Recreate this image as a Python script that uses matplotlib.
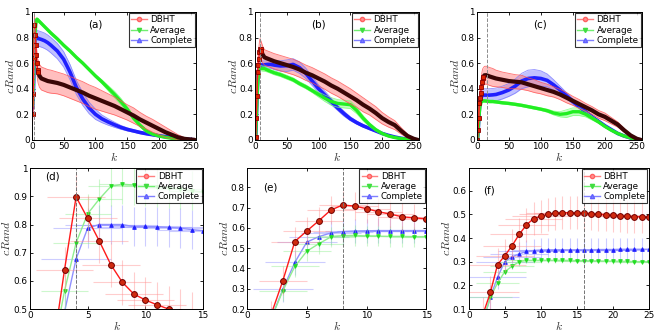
import numpy as np
import matplotlib
matplotlib.use("Agg")
import matplotlib.pyplot as plt
from matplotlib.lines import Line2D

plt.rcParams['font.family'] = ['DejaVu Sans']
plt.rcParams['mathtext.fontset'] = 'cm'

# ---------------- top-row data (k = number of clusters) ----------------
k_top = [1, 2, 3, 4, 5, 6, 7, 8, 9, 10, 12, 15, 20, 25, 30, 40, 50, 60, 70, 80, 90,
         100, 110, 120, 130, 140, 150, 160, 170, 180, 190, 200, 210, 220, 230, 240, 250, 256]

a_dbht = [0.20, 0.36, 0.64, 0.90, 0.82, 0.74, 0.66, 0.60, 0.55, 0.53, 0.50, 0.48, 0.47, 0.46, 0.455, 0.445,
          0.43, 0.41, 0.39, 0.37, 0.345, 0.325, 0.305, 0.285, 0.265, 0.24, 0.215, 0.19, 0.16, 0.135, 0.11,
          0.085, 0.06, 0.04, 0.02, 0.008, 0.003, 0.0]
a_dbht_sd = [0.08, 0.08, 0.08, 0.08, 0.08, 0.08, 0.08, 0.085, 0.085, 0.09, 0.09, 0.09, 0.09, 0.09, 0.09,
             0.085, 0.085, 0.085, 0.085, 0.085, 0.085, 0.085, 0.08, 0.075, 0.07, 0.065, 0.06, 0.06, 0.055,
             0.05, 0.05, 0.045, 0.04, 0.03, 0.02, 0.01, 0.005, 0.0]
a_avg = [0.27, 0.35, 0.565, 0.735, 0.838, 0.89, 0.935, 0.943, 0.94, 0.935, 0.925, 0.91, 0.885, 0.86, 0.835,
         0.79, 0.74, 0.695, 0.645, 0.60, 0.55, 0.50, 0.455, 0.405, 0.355, 0.30, 0.24, 0.17, 0.115, 0.07,
         0.045, 0.03, 0.02, 0.012, 0.007, 0.003, 0.001, 0.0]
a_avg_sd = [0.05, 0.05, 0.05, 0.04, 0.03, 0.02, 0.015, 0.012, 0.012, 0.012, 0.012, 0.012, 0.01, 0.01, 0.01,
            0.01, 0.01, 0.01, 0.01, 0.01, 0.01, 0.012, 0.015, 0.02, 0.025, 0.025, 0.02, 0.015, 0.01, 0.01,
            0.008, 0.006, 0.005, 0.004, 0.003, 0.002, 0.001, 0.0]
a_cpl = [0.25, 0.30, 0.49, 0.678, 0.787, 0.80, 0.80, 0.80, 0.792, 0.793, 0.79, 0.785, 0.775, 0.76, 0.74,
         0.695, 0.63, 0.53, 0.41, 0.32, 0.25, 0.20, 0.165, 0.14, 0.118, 0.098, 0.082, 0.07, 0.058, 0.048,
         0.04, 0.032, 0.025, 0.018, 0.012, 0.007, 0.003, 0.0]
a_cpl_sd = [0.06, 0.06, 0.06, 0.06, 0.06, 0.06, 0.06, 0.06, 0.06, 0.06, 0.06, 0.06, 0.06, 0.06, 0.06,
            0.06, 0.06, 0.06, 0.055, 0.05, 0.045, 0.04, 0.03, 0.025, 0.02, 0.015, 0.012, 0.01, 0.01,
            0.008, 0.008, 0.006, 0.005, 0.004, 0.003, 0.002, 0.001, 0.0]

b_dbht = [0.02, 0.17, 0.34, 0.533, 0.585, 0.635, 0.688, 0.713, 0.708, 0.695, 0.668, 0.645, 0.635, 0.625,
          0.615, 0.60, 0.585, 0.57, 0.55, 0.525, 0.505, 0.48, 0.455, 0.425, 0.40, 0.37, 0.34, 0.31, 0.275,
          0.245, 0.21, 0.17, 0.14, 0.115, 0.07, 0.03, 0.008, 0.0]
b_dbht_sd = [0.06, 0.06, 0.07, 0.08, 0.08, 0.08, 0.08, 0.08, 0.07, 0.07, 0.065, 0.06, 0.06, 0.06, 0.06,
             0.06, 0.06, 0.06, 0.06, 0.06, 0.06, 0.06, 0.06, 0.06, 0.06, 0.06, 0.06, 0.055, 0.055, 0.05,
             0.05, 0.045, 0.04, 0.035, 0.025, 0.015, 0.005, 0.0]
b_avg = [0.0, 0.15, 0.29, 0.41, 0.485, 0.522, 0.555, 0.562, 0.563, 0.56, 0.558, 0.557, 0.545, 0.535, 0.525,
         0.51, 0.49, 0.47, 0.44, 0.415, 0.385, 0.355, 0.325, 0.30, 0.285, 0.28, 0.275, 0.23, 0.17, 0.12,
         0.08, 0.05, 0.03, 0.018, 0.01, 0.005, 0.002, 0.0]
b_avg_sd = [0.03, 0.03, 0.03, 0.03, 0.025, 0.02, 0.02, 0.02, 0.02, 0.02, 0.02, 0.02, 0.015, 0.015, 0.015,
            0.015, 0.015, 0.015, 0.015, 0.015, 0.015, 0.02, 0.025, 0.03, 0.03, 0.03, 0.03, 0.025, 0.02,
            0.015, 0.01, 0.008, 0.006, 0.004, 0.003, 0.002, 0.001, 0.0]
b_cpl = [0.0, 0.15, 0.297, 0.43, 0.53, 0.557, 0.575, 0.582, 0.585, 0.586, 0.587, 0.587, 0.59, 0.59, 0.585,
         0.578, 0.58, 0.59, 0.565, 0.52, 0.46, 0.40, 0.35, 0.30, 0.25, 0.205, 0.165, 0.135, 0.11, 0.09,
         0.07, 0.05, 0.035, 0.022, 0.012, 0.006, 0.002, 0.0]
b_cpl_sd = [0.03, 0.03, 0.03, 0.03, 0.03, 0.03, 0.03, 0.03, 0.03, 0.03, 0.03, 0.03, 0.03, 0.03, 0.035,
            0.04, 0.045, 0.045, 0.045, 0.04, 0.035, 0.03, 0.03, 0.025, 0.02, 0.02, 0.015, 0.012, 0.01,
            0.01, 0.008, 0.006, 0.005, 0.004, 0.003, 0.002, 0.001, 0.0]

c_dbht = [0.0, 0.08, 0.17, 0.288, 0.325, 0.367, 0.415, 0.455, 0.482, 0.492, 0.505, 0.506, 0.496, 0.488,
          0.48, 0.47, 0.46, 0.455, 0.45, 0.435, 0.42, 0.405, 0.39, 0.375, 0.355, 0.33, 0.305, 0.28, 0.255,
          0.23, 0.20, 0.18, 0.15, 0.12, 0.075, 0.035, 0.008, 0.0]
c_dbht_sd = [0.03, 0.04, 0.05, 0.06, 0.06, 0.065, 0.07, 0.07, 0.07, 0.07, 0.07, 0.07, 0.07, 0.07, 0.065,
             0.06, 0.06, 0.055, 0.055, 0.05, 0.05, 0.045, 0.045, 0.04, 0.04, 0.04, 0.035, 0.035, 0.03,
             0.03, 0.03, 0.03, 0.025, 0.02, 0.015, 0.01, 0.005, 0.0]
c_avg = [0.0, 0.05, 0.15, 0.21, 0.258, 0.28, 0.30, 0.305, 0.305, 0.305, 0.305, 0.303, 0.30, 0.30, 0.297,
         0.29, 0.285, 0.278, 0.27, 0.26, 0.25, 0.24, 0.228, 0.21, 0.20, 0.205, 0.22, 0.22, 0.20, 0.17,
         0.14, 0.105, 0.075, 0.05, 0.03, 0.015, 0.004, 0.0]
c_avg_sd = [0.02, 0.02, 0.02, 0.02, 0.015, 0.012, 0.01, 0.01, 0.01, 0.01, 0.01, 0.01, 0.01, 0.01, 0.01,
            0.01, 0.01, 0.01, 0.01, 0.01, 0.01, 0.01, 0.012, 0.015, 0.02, 0.03, 0.03, 0.03, 0.02, 0.015,
            0.01, 0.008, 0.006, 0.005, 0.004, 0.003, 0.001, 0.0]
c_cpl = [0.0, 0.05, 0.15, 0.235, 0.30, 0.32, 0.333, 0.343, 0.347, 0.35, 0.35, 0.35, 0.35, 0.352, 0.355,
         0.37, 0.39, 0.42, 0.46, 0.48, 0.485, 0.48, 0.465, 0.43, 0.39, 0.345, 0.30, 0.26, 0.22, 0.18,
         0.145, 0.11, 0.08, 0.05, 0.03, 0.015, 0.004, 0.0]
c_cpl_sd = [0.02, 0.02, 0.03, 0.04, 0.045, 0.05, 0.05, 0.05, 0.05, 0.05, 0.05, 0.05, 0.05, 0.05, 0.05,
            0.05, 0.05, 0.055, 0.06, 0.065, 0.065, 0.06, 0.05, 0.04, 0.03, 0.025, 0.02, 0.015, 0.012,
            0.01, 0.008, 0.006, 0.005, 0.004, 0.003, 0.002, 0.001, 0.0]

# ---------------- bottom-row data (zoom on small k) ----------------
k_d = [1, 2, 3, 4, 5, 6, 7, 8, 9, 10, 11, 12, 13, 14, 15]
d_dbht = [0.20, 0.36, 0.64, 0.898, 0.822, 0.742, 0.658, 0.595, 0.553, 0.532, 0.515, 0.50, 0.49, 0.48, 0.47]
d_avg = [0.27, 0.35, 0.565, 0.735, 0.838, 0.89, 0.935, 0.943, 0.94, 0.935, 0.932, 0.93, 0.925, 0.92, 0.915]
d_cpl = [0.25, 0.30, 0.49, 0.678, 0.787, 0.80, 0.80, 0.80, 0.792, 0.793, 0.792, 0.79, 0.787, 0.782, 0.778]

k_e = [1, 2, 3, 4, 5, 6, 7, 8, 9, 10, 11, 12, 13, 14, 15]
e_dbht = [0.02, 0.17, 0.34, 0.533, 0.585, 0.635, 0.688, 0.713, 0.708, 0.695, 0.68, 0.668, 0.655, 0.65, 0.645]
e_avg = [0.0, 0.15, 0.29, 0.41, 0.485, 0.522, 0.555, 0.562, 0.563, 0.56, 0.559, 0.558, 0.558, 0.557, 0.557]
e_cpl = [0.0, 0.15, 0.297, 0.43, 0.53, 0.557, 0.575, 0.582, 0.585, 0.586, 0.587, 0.587, 0.587, 0.587, 0.587]

k_f = list(range(1, 26))
f_dbht = [0.0, 0.08, 0.17, 0.288, 0.325, 0.367, 0.415, 0.455, 0.482, 0.492, 0.50, 0.505, 0.507, 0.507,
          0.506, 0.505, 0.503, 0.50, 0.498, 0.496, 0.494, 0.492, 0.49, 0.49, 0.488]
f_avg = [0.0, 0.05, 0.15, 0.21, 0.258, 0.28, 0.30, 0.305, 0.305, 0.305, 0.305, 0.305, 0.305, 0.305, 0.304,
         0.304, 0.303, 0.303, 0.302, 0.302, 0.301, 0.301, 0.30, 0.30, 0.30]
f_cpl = [0.0, 0.05, 0.15, 0.235, 0.30, 0.32, 0.333, 0.343, 0.347, 0.349, 0.35, 0.35, 0.35, 0.35, 0.35,
         0.35, 0.35, 0.351, 0.351, 0.351, 0.352, 0.352, 0.352, 0.352, 0.352]

# error magnitudes for the zoomed panels (vertical, horizontal)
d_err = {"DBHT": (0.08, 2.5), "Average": (0.07, 2.0), "Complete": (0.07, 3.0)}
e_err = {"DBHT": (0.07, 2.0), "Average": (0.05, 2.0), "Complete": (0.06, 2.5)}
f_err = {"DBHT": (0.07, 4.0), "Average": (0.01, 3.0), "Complete": (0.05, 4.0)}

vlines = {"a": 4, "b": 8, "c": 16, "d": 4, "e": 8, "f": 16}
series_names = ["DBHT", "Average", "Complete"]

RED, GREEN, BLUE = "#ff1a1a", "#22ee22", "#2020ff"

fig = plt.figure(figsize=(6.64, 3.33), dpi=100)

top_pos = [[0.048, 0.580, 0.247, 0.384], [0.384, 0.580, 0.247, 0.384], [0.718, 0.580, 0.249, 0.384]]
bot_pos = [[0.045, 0.072, 0.261, 0.423], [0.372, 0.072, 0.270, 0.423], [0.706, 0.072, 0.271, 0.423]]
top_ylab_x = [-0.09, -0.09, -0.09]
bot_ylab_x = [-0.10, -0.09, -0.085]


def legend(ax):
    h = [Line2D([], [], color="#ff8080", marker="o", ms=3, mfc="#ff9090", mec="#ff6060", lw=1),
         Line2D([], [], color="#70ee70", marker="v", ms=3, mfc="#40dd40", mec="#40dd40", lw=1),
         Line2D([], [], color="#8080ff", marker="^", ms=3, mfc="#8080ff", mec="#6060ff", lw=1)]
    leg = ax.legend(h, series_names, loc="upper right", fontsize=6.3, frameon=True, fancybox=False,
                    borderpad=0.25, handlelength=1.8, handletextpad=0.4, labelspacing=0.15,
                    borderaxespad=0.15)
    leg.get_frame().set_edgecolor("black")
    leg.get_frame().set_linewidth(0.8)


def style(ax, labx):
    ax.tick_params(direction="in", length=2.5, width=0.6, labelsize=6.4, pad=1.5, top=True, right=True)
    for s in ax.spines.values():
        s.set_linewidth(0.7)
    ax.set_ylabel("$cRand$", fontsize=8.5, color="#333333")
    ax.yaxis.set_label_coords(labx, 0.5)
    ax.set_xlabel("$k$", fontsize=8.5, color="#333333", labelpad=0)


top_data = [
    ("a", a_dbht, a_dbht_sd, a_avg, a_avg_sd, a_cpl, a_cpl_sd),
    ("b", b_dbht, b_dbht_sd, b_avg, b_avg_sd, b_cpl, b_cpl_sd),
    ("c", c_dbht, c_dbht_sd, c_avg, c_avg_sd, c_cpl, c_cpl_sd),
]

kt = np.array(k_top)
for pos, labx, (lab, dm, ds, am, asd, cm, csd) in zip(top_pos, top_ylab_x, top_data):
    ax = fig.add_axes(pos)
    for m, s, col, fc, lw in [(np.array(cm), np.array(csd), BLUE, "#7777ff", 2.6),
                               (np.array(am), np.array(asd), GREEN, "#77ff77", 2.4)]:
        ax.fill_between(kt, m - s, m + s, color=fc, alpha=0.45, lw=0)
        ax.plot(kt, m - s, color=fc, lw=0.6, alpha=0.8)
        ax.plot(kt, m + s, color=fc, lw=0.6, alpha=0.8)
        ax.plot(kt, m, color=col, lw=lw, solid_capstyle="round")
    m, s = np.array(dm), np.array(ds)
    ax.fill_between(kt, m - s, m + s, color="#ff7070", alpha=0.45, lw=0)
    ax.plot(kt, m - s, color="#ff5050", lw=0.6, alpha=0.8)
    ax.plot(kt, m + s, color="#ff5050", lw=0.6, alpha=0.8)
    ax.plot(kt, m, color=RED, lw=1.0)
    dense = kt >= 10
    ax.plot(kt[dense], m[dense], color="#3a0606", lw=3.0, solid_capstyle="round")
    early = kt <= 10
    ax.plot(kt[early], m[early], ls="none", marker="s", ms=3, mfc="#dd2200", mec="#8b0000", mew=0.6)
    ax.axvline(vlines[lab], color="0.55", ls="--", lw=0.7)
    ax.set_xlim(0, 258)
    ax.set_ylim(0, 1)
    ax.set_xticks([0, 50, 100, 150, 200, 250])
    ax.set_yticks([0, 0.2, 0.4, 0.6, 0.8, 1])
    ax.set_yticklabels(["0", "0.2", "0.4", "0.6", "0.8", "1"])
    ax.text(0.34, 0.88, "(" + lab + ")", transform=ax.transAxes, fontsize=7.5)
    legend(ax)
    style(ax, labx)

bot_data = [
    ("d", k_d, d_dbht, d_avg, d_cpl, d_err, (0, 15), (0.5, 1.0), [0, 5, 10, 15],
     [0.5, 0.6, 0.7, 0.8, 0.9, 1.0], ["0.5", "0.6", "0.7", "0.8", "0.9", "1"], (0.09, 0.92)),
    ("e", k_e, e_dbht, e_avg, e_cpl, e_err, (0, 15), (0.2, 0.895), [0, 5, 10, 15],
     [0.2, 0.3, 0.4, 0.5, 0.6, 0.7, 0.8], None, (0.09, 0.84)),
    ("f", k_f, f_dbht, f_avg, f_cpl, f_err, (0, 25), (0.1, 0.695), [0, 5, 10, 15, 20, 25],
     [0.1, 0.2, 0.3, 0.4, 0.5, 0.6], None, (0.08, 0.82)),
]

for pos, labx, (lab, kk, dm, am, cm, err, xl, yl, xt, yt, ytl, tpos) in zip(bot_pos, bot_ylab_x, bot_data):
    ax = fig.add_axes(pos)
    kk = np.array(kk)
    specs = [(cm, "Complete", BLUE, "#9090ff", "^", 2.6, "#2020ff", "#2020ff"),
             (am, "Average", GREEN, "#90ee90", "v", 2.6, "#22dd22", "#22dd22"),
             (dm, "DBHT", RED, "#ff9090", "o", 4.2, "#d02a10", "#700000")]
    for m, name, col, lc, mk, ms, mfc, mec in specs:
        ye, xe = err[name]
        ax.errorbar(kk, m, yerr=ye, xerr=xe, fmt="none", ecolor=lc, elinewidth=0.8, alpha=0.45,
                    capsize=0)
        lcol = col if name == "DBHT" else lc
        ax.plot(kk, m, color=lcol, lw=1.0)
        ax.plot(kk, m, ls="none", marker=mk, ms=ms, mfc=mfc, mec=mec, mew=0.7)
    ax.axvline(vlines[lab], color="0.45", ls="--", lw=0.7)
    ax.set_xlim(*xl)
    ax.set_ylim(*yl)
    ax.set_xticks(xt)
    ax.set_yticks(yt)
    if ytl is not None:
        ax.set_yticklabels(ytl)
    ax.text(tpos[0], tpos[1], "(" + lab + ")", transform=ax.transAxes, fontsize=7.5)
    legend(ax)
    style(ax, labx)

fig.savefig("out.png", dpi=100)
